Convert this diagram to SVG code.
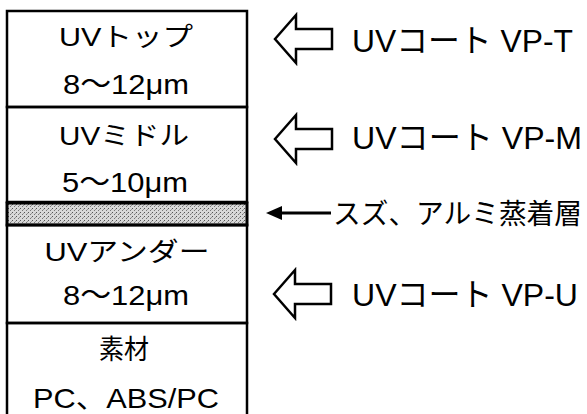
<svg xmlns="http://www.w3.org/2000/svg" width="587" height="414" viewBox="0 0 587 414">
<defs>
<style>
.t{font-family:"Liberation Sans","Noto Sans CJK JP",sans-serif;fill:#000;}
.box{font-size:26px;text-anchor:middle;}
.num{font-size:28px;text-anchor:middle;}
.lbl{font-size:32px;}
.ln{stroke:#000;stroke-width:2.5;fill:none;}
.hollow{fill:#fff;stroke:#000;stroke-width:2.5;stroke-linejoin:miter;}
</style>
<pattern id="stip" width="4" height="4" patternUnits="userSpaceOnUse">
<rect width="4" height="4" fill="#d8d8d8"/>
<rect x="0" y="0" width="1" height="1" fill="#555"/>
<rect x="2" y="2" width="1" height="1" fill="#777"/>
<rect x="3" y="1" width="1" height="1" fill="#999"/>
</pattern>
</defs>
<rect width="587" height="414" fill="#fff"/>

<g id="layer-top">
<rect x="7" y="11" width="240" height="96" class="ln"/>
<text class="t box" x="126" y="46" textLength="134" lengthAdjust="spacingAndGlyphs">UVトップ</text>
<text class="t num" x="126" y="94" textLength="126" lengthAdjust="spacingAndGlyphs">8〜12μm</text>
</g>
<g id="layer-middle">
<rect x="7" y="107" width="240" height="95" class="ln"/>
<text class="t box" x="124" y="145" textLength="130" lengthAdjust="spacingAndGlyphs">UVミドル</text>
<text class="t num" x="125" y="192" textLength="126" lengthAdjust="spacingAndGlyphs">5〜10μm</text>
</g>
<g id="layer-metal">
<rect x="7" y="203" width="240" height="22" fill="url(#stip)" stroke="#000" stroke-width="3"/>
</g>
<g id="layer-under">
<rect x="7" y="225" width="240" height="98" class="ln"/>
<text class="t box" x="127" y="261" textLength="165" lengthAdjust="spacingAndGlyphs">UVアンダー</text>
<text class="t num" x="126" y="305" textLength="126" lengthAdjust="spacingAndGlyphs">8〜12μm</text>
</g>
<g id="layer-base">
<path d="M7,416 V323 H247 V416" class="ln"/>
<text class="t box" x="124" y="359" style="font-size:27px" textLength="50" lengthAdjust="spacingAndGlyphs">素材</text>
<text class="t num" x="126" y="408" textLength="186" lengthAdjust="spacingAndGlyphs">PC、ABS/PC</text>
</g>

<g id="connectors">
<path class="hollow" d="M275,39 L296,15 L296,29 L332,29 L332,49 L296,49 L296,63 Z"/>
<path class="hollow" d="M275,139 L296,115 L296,129 L332,129 L332,149 L296,149 L296,163 Z"/>
<path class="hollow" d="M274,294 L295,270 L295,284 L331,284 L331,304 L295,304 L295,318 Z"/>
<line x1="279" y1="213" x2="331" y2="213" stroke="#000" stroke-width="3"/>
<path d="M266,213 L282,206 L282,220 Z" fill="#000"/>
</g>

<g id="label-vpt"><text class="t lbl" x="352" y="52" textLength="221" lengthAdjust="spacingAndGlyphs">UVコート VP-T</text></g>
<g id="label-vpm"><text class="t lbl" x="352" y="149" textLength="230" lengthAdjust="spacingAndGlyphs">UVコート VP-M</text></g>
<g id="label-metal"><text class="t lbl" x="333" y="224" style="font-size:28px" textLength="249" lengthAdjust="spacingAndGlyphs">スズ、アルミ蒸着層</text></g>
<g id="label-vpu"><text class="t lbl" x="352" y="306" textLength="226" lengthAdjust="spacingAndGlyphs">UVコート VP-U</text></g>
</svg>
